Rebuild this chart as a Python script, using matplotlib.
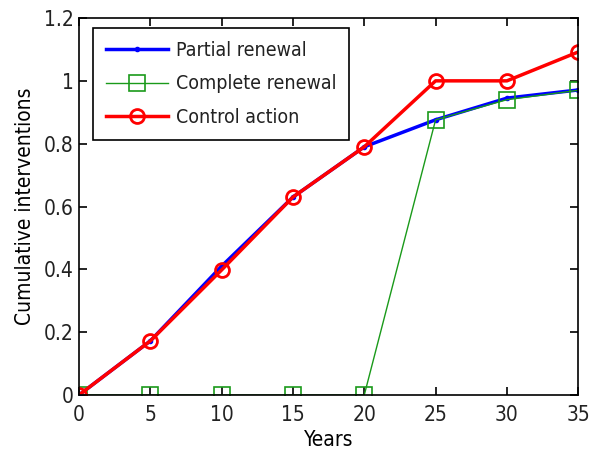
import matplotlib
matplotlib.use("Agg")
import matplotlib.pyplot as plt
from matplotlib.ticker import FuncFormatter

years = [0, 5, 10, 15, 20, 25, 30, 35]
partial = [0, 0.172, 0.41, 0.63, 0.79, 0.876, 0.945, 0.971]
complete = [0, 0, 0, 0, 0, 0.876, 0.94, 0.97]
control = [0, 0.172, 0.398, 0.63, 0.79, 1.0, 1.0, 1.092]
xticks = [0, 5, 10, 15, 20, 25, 30, 35]
yticks = [0, 0.2, 0.4, 0.6, 0.8, 1.0, 1.2]

plt.rcParams['font.family'] = ['DejaVu Sans']
plt.rcParams['font.stretch'] = 'condensed'
plt.rcParams['text.color'] = '#222222'

fig = plt.figure(figsize=(5.98, 4.62), dpi=100)
ax = fig.add_axes([0.132, 0.145, 0.835, 0.816])

ax.plot(years, partial, color='blue', lw=2.5, marker='.', ms=6, label='Partial renewal')
ax.plot(years, complete, color='#1a9a1a', lw=1.0, marker='s', ms=11, mfc='none',
        mec='#1a9a1a', mew=1.2, label='Complete renewal')
ax.plot(years, control, color='red', lw=2.5, marker='o', ms=10, mfc='none',
        mec='red', mew=2.0, label='Control action')

ax.set_xlim(0, 35)
ax.set_ylim(0, 1.2)
ax.set_xticks(xticks)
ax.set_yticks(yticks)
ax.yaxis.set_major_formatter(FuncFormatter(lambda v, p: f"{v:g}"))
ax.tick_params(direction='in', top=True, right=True, labelsize=15, length=6, width=1.2,
               labelcolor='#222222')
ax.tick_params(axis='x', pad=7)
ax.tick_params(axis='y', pad=4)
for s in ax.spines.values():
    s.set_linewidth(1.2)
ax.set_xlabel('Years', fontsize=15, labelpad=4)
ax.set_ylabel('Cumulative interventions', fontsize=15, labelpad=6)

leg = ax.legend(loc='upper left', fontsize=14, fancybox=False, edgecolor='black',
                framealpha=1, handlelength=3.2, handletextpad=0.4, borderpad=0.65,
                labelspacing=0.75, borderaxespad=0, bbox_to_anchor=(0.028, 0.973))
leg.get_frame().set_linewidth(1.2)

fig.savefig('out.png', dpi=100)
